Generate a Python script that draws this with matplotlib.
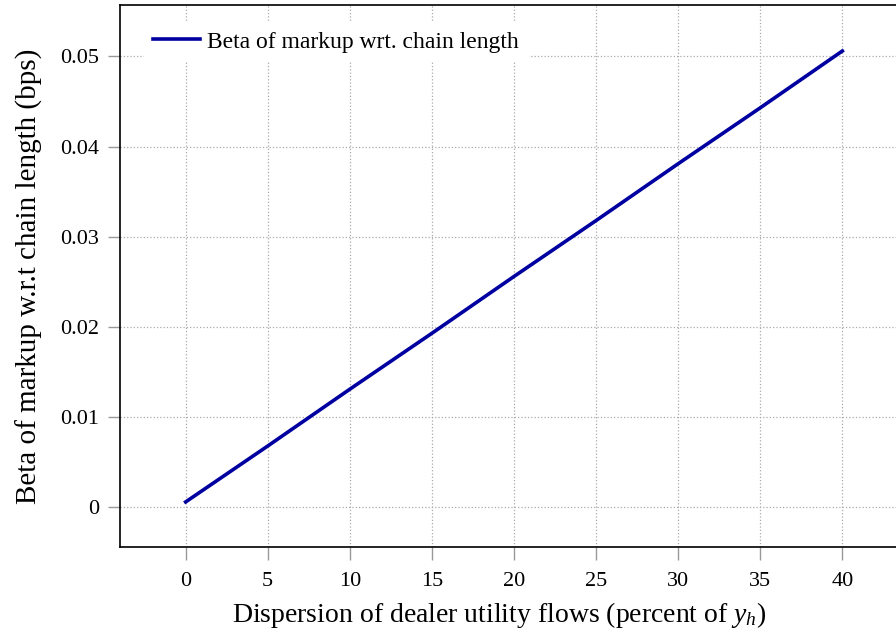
import numpy as np
import matplotlib
matplotlib.use('Agg')
import matplotlib.pyplot as plt

# values
dispersion = [0, 5, 10, 15, 20, 25, 30, 35, 40]
beta = [0.0006, 0.0068, 0.0131, 0.0193, 0.0256, 0.0318, 0.0381, 0.0443, 0.0506]
xticks = [0, 5, 10, 15, 20, 25, 30, 35, 40]
yticks = [0, 0.01, 0.02, 0.03, 0.04, 0.05]
ytick_labels = ['0', '0.01', '0.02', '0.03', '0.04', '0.05']

plt.rcParams['font.family'] = ['Liberation Serif', 'DejaVu Serif']
plt.rcParams['mathtext.fontset'] = 'custom'
plt.rcParams['mathtext.it'] = 'Liberation Serif:italic'
plt.rcParams['mathtext.rm'] = 'Liberation Serif'

fig = plt.figure(figsize=(8.96, 6.34), dpi=100)
ax = fig.add_axes([0.1339, 0.1372, 0.8795, 0.8549])

ax.plot(dispersion, beta, color='#0000a0', lw=2.6, label='Beta of markup wrt. chain length')

ax.set_xlim(-4, 44)
ax.set_ylim(-0.0044, 0.0557)
ax.set_xticks(xticks)
ax.set_yticks(yticks)
ax.set_yticklabels(ytick_labels)
ax.tick_params(direction='out', length=9, width=1, color='#999999', labelsize=16, pad=6)
ax.tick_params(axis='x', pad=9)
ax.grid(True, linestyle=':', color='#aaaaaa', lw=0.9)
ax.set_axisbelow(True)
for s in ax.spines.values():
    s.set_linewidth(1.2)

ax.set_xlabel('Dispersion of dealer utility flows (percent of $y_h$)', fontsize=20)
ax.xaxis.set_label_coords((499 - 120) / 788, -0.098)
ax.set_ylabel('Beta of markup w.r.t chain length (bps)', fontsize=21, labelpad=12)

leg = ax.legend(loc='center left', bbox_to_anchor=(0.030, 0.932), fontsize=17, frameon=True,
                handlelength=2.0, handletextpad=0.3, borderaxespad=0, fancybox=False)
leg.get_frame().set_edgecolor('none')
leg.get_frame().set_facecolor('white')
leg.get_frame().set_alpha(1)

fig.savefig('out.png', dpi=100)
